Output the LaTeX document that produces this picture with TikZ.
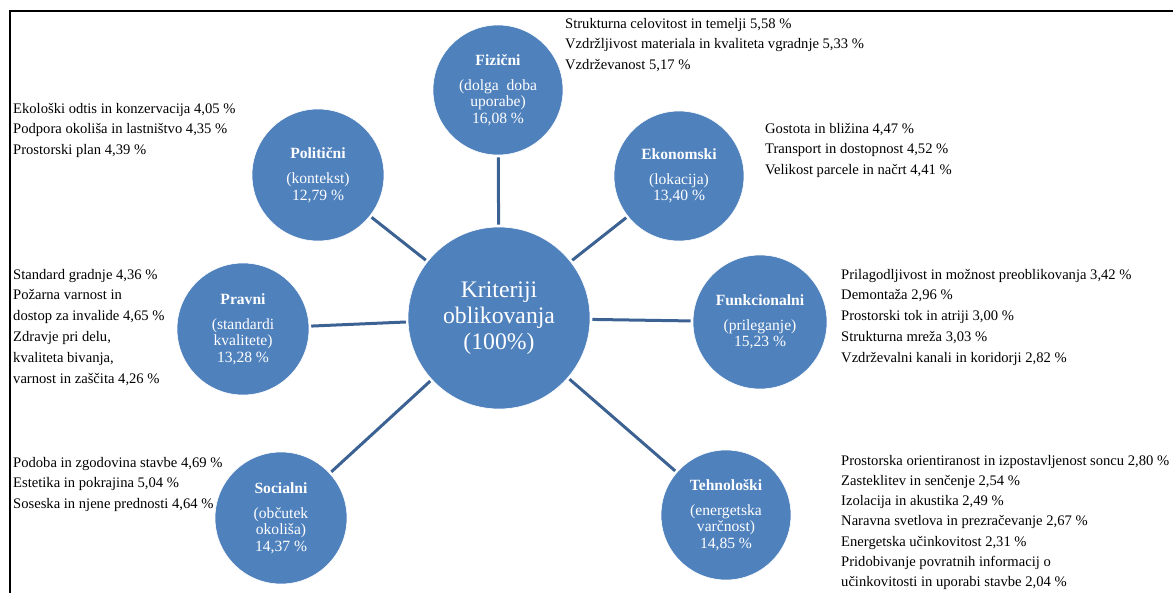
\documentclass[tikz,border=0pt]{standalone}
\usepackage{fontspec}
\setmainfont{Liberation Serif}
\definecolor{cfill}{RGB}{79,129,189}
\definecolor{cline}{RGB}{60,98,148}
\begin{document}
\begin{tikzpicture}[x=1pt,y=-1pt,
  crit/.style={circle,fill=cfill,draw=white,line width=0.6pt,inner sep=0pt,align=center,text=white,
    font=\fontsize{15.6}{16.5}\selectfont},
  hub/.style={crit,font=\fontsize{23.7}{26}\selectfont},
  conn/.style={draw=cline,line width=3pt,shorten >=2pt,shorten <=2pt},
  list/.style={anchor=north west,inner sep=0pt,align=left,font=\fontsize{14.6}{20.8}\selectfont},
  tightlist/.style={list,font=\fontsize{14.6}{20.2}\selectfont}]
\useasboundingbox (0,0) rectangle (1173,592);
\clip (0,0) rectangle (1173,592);
\draw[line width=2pt] (10,593) -- (10,11) -- (1174,11);

% lists
\node[list] (lFiz) at (565,13.4) {\strut Strukturna celovitost in temelji 5,58 \%\\Vzdržljivost materiala in kvaliteta vgradnje 5,33 \%\\Vzdrževanost 5,17 \%};
\node[list] (lEko) at (765,118.4) {\strut Gostota in bližina 4,47 \%\\Transport in dostopnost 4,52 \%\\Velikost parcele in načrt 4,41 \%};
\node[list] (lPol) at (13,98.4) {\strut Ekološki odtis in konzervacija 4,05 \%\\Podpora okoliša in lastništvo 4,35 \%\\Prostorski plan 4,39 \%};
\node[list] (lPra) at (13,264.4) {\strut Standard gradnje 4,36 \%\\Požarna varnost in\\dostop za invalide 4,65 \%\\Zdravje pri delu,\\kvaliteta bivanja,\\varnost in zaščita 4,26 \%};
\node[list] (lFun) at (841,264.4) {\strut Prilagodljivost in možnost preoblikovanja 3,42 \%\\Demontaža 2,96 \%\\Prostorski tok in atriji 3,00 \%\\Strukturna mreža 3,03 \%\\Vzdrževalni kanali in koridorji 2,82 \%};
\node[list] (lSoc) at (13,452.4) {\strut Podoba in zgodovina stavbe 4,69 \%\\Estetika in pokrajina 5,04 \%\\Soseska in njene prednosti 4,64 \%};
\node[tightlist] (lTeh) at (841,450.9) {\strut Prostorska orientiranost in izpostavljenost soncu 2,80 \%\\Zasteklitev in senčenje 2,54 \%\\Izolacija in akustika 2,49 \%\\Naravna svetlova in prezračevanje 2,67 \%\\Energetska učinkovitost 2,31 \%\\Pridobivanje povratnih informacij o\\učinkovitosti in uporabi stavbe 2,04 \%};

% circles
\node[hub,minimum size=182pt] (C) at (499,318) {Kriteriji\\oblikovanja\\(100\%)};
\node[crit,minimum size=130pt] (F) at (498,90) {\textbf{Fizični}\\[8.5pt](dolga~~doba\\uporabe)\\16,08 \%};
\node[crit,minimum size=130pt] (E) at (679,176) {\textbf{Ekonomski}\\[8.5pt](lokacija)\\13,40 \%};
\node[crit,minimum size=132pt] (P) at (318,175) {\textbf{Politični}\\[8.5pt](kontekst)\\12,79 \%};
\node[crit,minimum size=132pt] (R) at (243,329) {\textbf{Pravni}\\[8.5pt](standardi\\kvalitete)\\13,28 \%};
\node[crit,minimum size=134pt] (U) at (760,322) {\textbf{Funkcionalni}\\[8.5pt](prileganje)\\15,23 \%};
\node[crit,minimum size=132pt] (S) at (281,518) {\textbf{Socialni}\\[8.5pt](občutek\\okoliša)\\14,37 \%};
\node[crit,minimum size=130pt] (T) at (726,515) {\textbf{Tehnološki}\\[8.5pt](energetska\\varčnost)\\14,85 \%};

% connectors
\foreach \n in {F,E,P,R,U,S,T} \draw[conn] (C) -- (\n);
\end{tikzpicture}
\end{document}
